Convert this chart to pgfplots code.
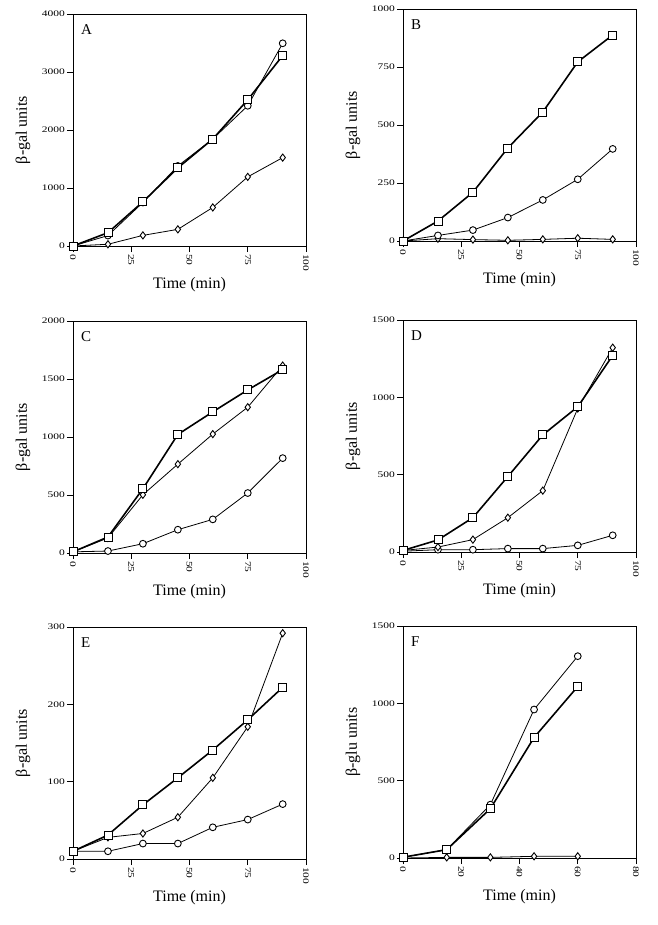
\documentclass[border=0pt]{standalone}
\usepackage{fontspec}
\setmainfont{Liberation Serif}
\newfontfamily\tickfont[FakeStretch=1.35]{Liberation Serif}
\usepackage{pgfplots}
\pgfplotsset{compat=1.18}

\pgfplotsset{
  panel/.style={
    width=233pt, height=232pt, scale only axis,
    xmin=0, xmax=100, xtick={0,25,50,75,100},
    tick align=outside, tick pos=left, major tick length=6pt,
    axis line style={line width=0.9pt},
    every tick/.style={line width=0.9pt, black},
    xticklabel style={rotate=-90, anchor=west, font=\tickfont\fontsize{8.5}{9}\selectfont, inner sep=2pt},
    yticklabel style={font=\tickfont\fontsize{8.5}{9}\selectfont, inner sep=2pt},
    /pgf/number format/assume math mode=true,
    /pgf/number format/1000 sep={},
    xlabel={Time (min)}, ylabel={β-gal units},
    label style={font=\fontsize{16}{18}\selectfont},
    xlabel style={at={(axis description cs:0.5,-0.167)}, anchor=center},
    ylabel style={at={(axis description cs:-0.215,0.5)}, anchor=center},
    clip=false,
  },
  sq/.style={black, line width=1.6pt, mark=square*, mark size=4pt,
    mark options={fill=white, line width=0.9pt, solid}},
  ci/.style={black, line width=0.8pt, mark=*, mark size=3.4pt,
    mark options={fill=white, line width=0.9pt, solid}},
  di/.style={black, line width=0.8pt, mark=diamond*, mark size=3.6pt,
    mark options={fill=white, line width=0.9pt, solid}},
}
\newcommand{\plabel}[1]{\node[anchor=north west, inner sep=0pt, font=\fontsize{15}{17}\selectfont, xshift=8pt, yshift=-10pt] at (rel axis cs:0,1) {#1};}

\begin{document}
\begin{tikzpicture}
\path[use as bounding box] (0,0) rectangle (657pt,-925pt);

% A
\begin{axis}[panel, at={(73pt,-246pt)}, anchor=south west,
  ymin=0, ymax=4000, ytick={0,1000,2000,3000,4000}]
\addplot[di] coordinates {(0,0) (15,30) (30,183) (45,287) (60,665) (75,1192) (90,1524)};
\addplot[ci] coordinates {(0,0) (15,180) (30,750) (45,1380) (60,1845) (75,2418) (90,3495)};
\addplot[sq] coordinates {(0,0) (15,230) (30,762) (45,1347) (60,1845) (75,2521) (90,3283)};
\plabel{A}
\end{axis}

% B
\begin{axis}[panel, at={(403pt,-241pt)}, anchor=south west,
  ymin=0, ymax=1000, ytick={0,250,500,750,1000}]
\addplot[di] coordinates {(0,0) (15,10) (30,6) (45,3) (60,7) (75,12) (90,7)};
\addplot[ci] coordinates {(0,0) (15,24) (30,47) (45,101) (60,177) (75,266) (90,397)};
\addplot[sq] coordinates {(0,0) (15,86) (30,210) (45,401) (60,556) (75,772) (90,888)};
\plabel{B}
\end{axis}

% C
\begin{axis}[panel, at={(73pt,-553pt)}, anchor=south west,
  ymin=0, ymax=2000, ytick={0,500,1000,1500,2000}]
\addplot[ci] coordinates {(0,10) (15,17) (30,80) (45,201) (60,290) (75,517) (90,818)};
\addplot[di] coordinates {(0,10) (15,130) (30,502) (45,766) (60,1025) (75,1257) (90,1616)};
\addplot[sq] coordinates {(0,10) (15,138) (30,554) (45,1022) (60,1217) (75,1406) (90,1581)};
\plabel{C}
\end{axis}

% D
\begin{axis}[panel, at={(403pt,-552pt)}, anchor=south west,
  ymin=0, ymax=1500, ytick={0,500,1000,1500}]
\addplot[ci] coordinates {(0,5) (15,15) (30,15) (45,22) (60,22) (75,43) (90,108)};
\addplot[di] coordinates {(0,10) (15,32) (30,80) (45,222) (60,397) (75,928) (90,1321)};
\addplot[sq] coordinates {(0,10) (15,78) (30,222) (45,488) (60,757) (75,939) (90,1271)};
\plabel{D}
\end{axis}

% E
\begin{axis}[panel, at={(73pt,-859pt)}, anchor=south west,
  ymin=0, ymax=300, ytick={0,100,200,300}]
\addplot[ci] coordinates {(0,10) (15,10) (30,20) (45,20) (60,41) (75,51) (90,71)};
\addplot[di] coordinates {(0,10) (15,28) (30,33) (45,54) (60,105) (75,171) (90,292)};
\addplot[sq] coordinates {(0,10) (15,31) (30,70) (45,105) (60,141) (75,180) (90,222)};
\plabel{E}
\end{axis}

% F
\begin{axis}[panel, at={(403pt,-858pt)}, anchor=south west,
  xmin=0, xmax=80, xtick={0,20,40,60,80},
  ymin=0, ymax=1500, ytick={0,500,1000,1500}, ylabel={β-glu units}]
\addplot[di] coordinates {(0,0) (15,4) (30,4) (45,11) (60,11)};
\addplot[ci] coordinates {(0,5) (15,54) (30,345) (45,960) (60,1305)};
\addplot[sq] coordinates {(0,5) (15,54) (30,319) (45,779) (60,1109)};
\plabel{F}
\end{axis}
\end{tikzpicture}
\end{document}
